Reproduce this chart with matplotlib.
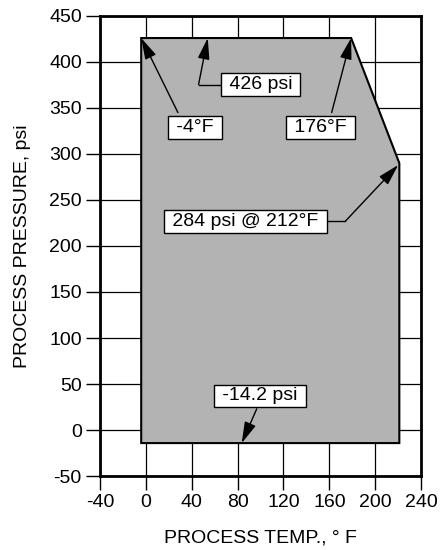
import matplotlib.pyplot as plt

plt.rcParams['font.family'] = ['Liberation Sans', 'DejaVu Sans']

# operating envelope (as drawn)
temp = [-4, -4, 179, 221, 221]
pressure = [-14.2, 426, 426, 290, -14.2]

x_ticks = [-40, 0, 40, 80, 120, 160, 200, 240]
y_ticks = [-50, 0, 50, 100, 150, 200, 250, 300, 350, 400, 450]

# label text, box centre, arrow tail, arrow tip
notes = [
    ("-4°F", (43, 329), (28, 345), (-4, 426)),
    ("426 psi", (100, 375.5), (46, 375.5), (54, 426)),
    ("176°F", (152, 329), (162, 345), (179, 426)),
    ("284 psi @ 212°F", (87, 227), (174, 227), (220, 288)),
    ("-14.2 psi", (99.6, 37), (96.7, 23), (83.6, -14.2)),
]

fig = plt.figure(figsize=(4.44, 5.5), dpi=100)
ax = fig.add_axes([0.225, 0.1345, 0.7235, 0.8365])

ax.fill(temp, pressure, facecolor='#b3b3b3', edgecolor='black', lw=1.5, zorder=2)

ax.set_xlim(-40, 240)
ax.set_ylim(-50, 450)
ax.set_xticks(x_ticks)
ax.set_yticks(y_ticks)
ax.set_xticklabels([str(v) for v in x_ticks])
ax.set_yticklabels([str(v) for v in y_ticks])
ax.tick_params(direction='out', length=10, width=1, labelsize=14, colors='black', pad=3)
ax.grid(True, color='black', lw=0.9)
ax.set_axisbelow(True)
for s in ax.spines.values():
    s.set_linewidth(2)

ax.set_xlabel("PROCESS TEMP., ° F", fontsize=14, labelpad=13)
ax.set_ylabel("PROCESS PRESSURE, psi", fontsize=14, labelpad=13)

arrow = dict(arrowstyle='-|>,head_length=0.65,head_width=0.18', color='black', lw=1,
             mutation_scale=20, shrinkA=0, shrinkB=0)

for label, centre, tail, tip in notes:
    if label.startswith("426") or label.startswith("284"):
        # bent leader: horizontal run from the box, then the arrow
        ax.plot([centre[0], tail[0]], [centre[1], tail[1]], color='black', lw=1, zorder=3)
    ax.annotate("", xy=tip, xytext=tail, arrowprops=arrow, zorder=3)
    ax.text(centre[0], centre[1], " " + label + " ", ha='center', va='center', fontsize=14,
            zorder=4,
            bbox=dict(boxstyle='square,pad=0.15', facecolor='white', edgecolor='black', lw=1))

fig.savefig("out.png", dpi=100)
